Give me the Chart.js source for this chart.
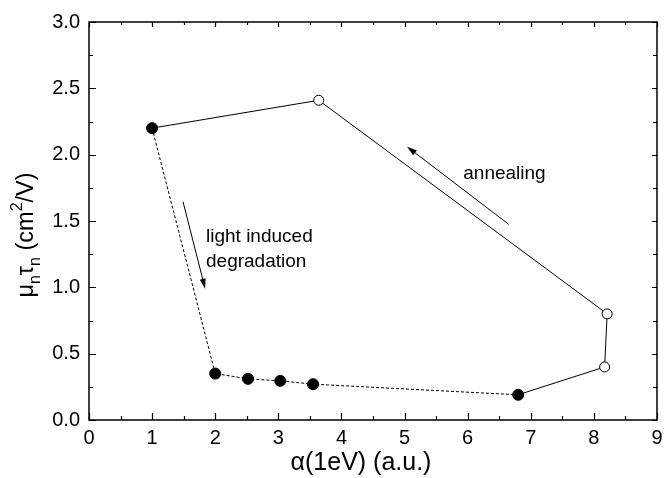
<!DOCTYPE html>
<html><head><meta charset="utf-8">
<script src="https://cdn.jsdelivr.net/npm/chart.js@4/dist/chart.umd.min.js"></script>
<style>html,body{margin:0;padding:0;background:#fff}#wrap{width:666px;height:478px}</style>
</head><body><div id="wrap"><canvas id="c" width="666" height="478"></canvas></div>
<script>
// ---- data ----
const degradationX = [1.0, 2.0, 2.52, 3.03, 3.55, 6.8];
const degradationY = [2.2, 0.35, 0.31, 0.295, 0.27, 0.19];
const annealingX = [6.8, 8.17, 8.21, 3.64, 1.0];
const annealingY = [0.19, 0.40, 0.80, 2.41, 2.2];
const annealingOpen = [false, true, true, true, false];
const xRange = [0, 9];
const yRange = [0, 3];
const xTitle = 'α(1eV) (a.u.)';
const noteTexts = ['light induced', 'degradation', 'annealing'];

// ---- annotation placement (data coordinates) ----
const notes = [
  {text: noteTexts[0], x: 1.854, y: 1.344},
  {text: noteTexts[1], x: 1.854, y: 1.155},
  {text: noteTexts[2], x: 5.93, y: 1.816}
];
const arrows = [
  {from: [1.49, 1.645], to: [1.84, 0.99]},
  {from: [6.65, 1.475], to: [5.04, 2.06]}
];

const FONT = '"Liberation Sans", Arial, Helvetica, sans-serif';

const decor = {
  id: 'decor',
  beforeDatasetsDraw(chart) {
    const {ctx, chartArea: a, scales: {x, y}} = chart;
    ctx.save();
    ctx.strokeStyle = '#000';
    ctx.lineWidth = 1.5;
    ctx.strokeRect(a.left, a.top, a.right - a.left, a.bottom - a.top);
    ctx.lineWidth = 1.2;
    ctx.beginPath();
    for (let i = 0; i <= 18; i++) {
      const v = i * 0.5, px = Math.round(x.getPixelForValue(v)) + 0.5;
      const major = i % 2 === 0;
      ctx.moveTo(px, a.bottom); ctx.lineTo(px, a.bottom - (major ? 7 : 4));
      ctx.moveTo(px, a.top); ctx.lineTo(px, a.top + (major ? 5 : 3));
    }
    for (let i = 0; i <= 12; i++) {
      const v = i * 0.25, py = Math.round(y.getPixelForValue(v)) + 0.5;
      const major = i % 2 === 0;
      ctx.moveTo(a.left, py); ctx.lineTo(a.left + (major ? 7 : 4), py);
      ctx.moveTo(a.right, py); ctx.lineTo(a.right - (major ? 5 : 4), py);
    }
    ctx.stroke();
    ctx.restore();
  },
  afterDatasetsDraw(chart) {
    const {ctx, scales: {x, y}} = chart;
    ctx.save();
    ctx.fillStyle = '#000';
    ctx.strokeStyle = '#000';
    ctx.lineWidth = 1;
    arrows.forEach(ar => {
      const x1 = x.getPixelForValue(ar.from[0]), y1 = y.getPixelForValue(ar.from[1]);
      const x2 = x.getPixelForValue(ar.to[0]), y2 = y.getPixelForValue(ar.to[1]);
      const ang = Math.atan2(y2 - y1, x2 - x1);
      const L = 10, W = 3;
      ctx.beginPath(); ctx.moveTo(x1, y1);
      ctx.lineTo(x2 - (L - 1) * Math.cos(ang), y2 - (L - 1) * Math.sin(ang)); ctx.stroke();
      ctx.beginPath();
      ctx.moveTo(x2, y2);
      ctx.lineTo(x2 - L * Math.cos(ang) + W * Math.sin(ang), y2 - L * Math.sin(ang) - W * Math.cos(ang));
      ctx.lineTo(x2 - L * Math.cos(ang) - W * Math.sin(ang), y2 - L * Math.sin(ang) + W * Math.cos(ang));
      ctx.closePath(); ctx.fill();
    });
    ctx.font = '19px ' + FONT;
    ctx.textAlign = 'left';
    ctx.textBaseline = 'alphabetic';
    notes.forEach(n => ctx.fillText(n.text, x.getPixelForValue(n.x), y.getPixelForValue(n.y)));
    ctx.restore();
  },
  afterDraw(chart) {
    const {ctx} = chart;
    // x-axis title
    ctx.save();
    ctx.fillStyle = '#000';
    ctx.font = '25px ' + FONT;
    ctx.textAlign = 'center';
    ctx.textBaseline = 'alphabetic';
    ctx.fillText(xTitle, 361, 470);
    ctx.restore();
    // y-axis title with sub/superscripts
    const parts = [
      {t: 'μ', s: 23.5, dy: 0}, {t: 'n', s: 16, dy: 7},
      {t: 'τ', s: 23.5, dy: 0}, {t: 'n', s: 16, dy: 7},
      {t: ' (cm', s: 23.5, dy: 0}, {t: '2', s: 16, dy: -11},
      {t: '/V)', s: 23.5, dy: 0}
    ];
    ctx.save();
    ctx.fillStyle = '#000';
    let total = 0;
    parts.forEach(p => { ctx.font = p.s + 'px ' + FONT; p.w = ctx.measureText(p.t).width; total += p.w; });
    ctx.translate(33, 235);
    ctx.rotate(-Math.PI / 2);
    ctx.textBaseline = 'alphabetic';
    ctx.textAlign = 'left';
    let cx = -total / 2;
    parts.forEach(p => { ctx.font = p.s + 'px ' + FONT; ctx.fillText(p.t, cx, p.dy); cx += p.w; });
    ctx.restore();
  }
};

new Chart(document.getElementById('c'), {
  type: 'scatter',
  data: {
    datasets: [
      {
        data: degradationX.map((v, i) => ({x: v, y: degradationY[i]})),
        showLine: true,
        borderColor: '#000',
        borderWidth: 1,
        borderDash: [3, 2],
        pointRadius: 5.5,
        pointBackgroundColor: '#000',
        pointBorderColor: '#000',
        pointBorderWidth: 1
      },
      {
        data: annealingX.map((v, i) => ({x: v, y: annealingY[i]})),
        showLine: true,
        borderColor: '#000',
        borderWidth: 1,
        pointRadius: annealingOpen.map(o => o ? 5 : 0),
        pointBackgroundColor: '#fff',
        pointBorderColor: '#000',
        pointBorderWidth: 1
      }
    ]
  },
  options: {
    responsive: false,
    animation: false,
    devicePixelRatio: 1,
    layout: {padding: {top: 22, right: 9, left: 0, bottom: 0}},
    plugins: {legend: {display: false}, tooltip: {enabled: false}},
    scales: {
      x: {
        type: 'linear', min: xRange[0], max: xRange[1],
        grid: {display: false, drawTicks: false},
        border: {display: false},
        ticks: {stepSize: 1, color: '#000', font: {size: 20, family: FONT}, padding: 6, maxRotation: 0},
        afterFit(s) { s.height = 58; s.paddingRight = 0; s.paddingLeft = 0; }
      },
      y: {
        type: 'linear', min: yRange[0], max: yRange[1],
        grid: {display: false, drawTicks: false},
        border: {display: false},
        ticks: {stepSize: 0.5, color: '#000', font: {size: 20, family: FONT}, padding: 9, callback: v => v.toFixed(1)},
        afterFit(s) { s.width = 89; s.paddingTop = 0; s.paddingBottom = 0; }
      }
    }
  },
  plugins: [decor]
});
</script>
</body></html>
